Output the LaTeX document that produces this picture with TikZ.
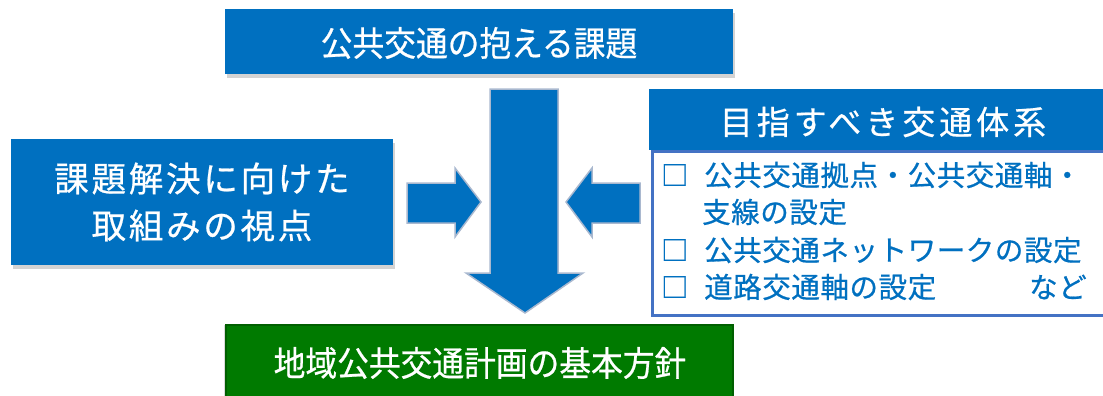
\documentclass[tikz,border=0pt]{standalone}
\usepackage{fontspec}
\newfontfamily\jp[FakeBold=0.6]{Noto Sans CJK JP}
\newfontfamily\jpn[FakeBold=0.6,FakeStretch=0.92]{Noto Sans CJK JP}
\usetikzlibrary{shadows}
\definecolor{mblue}{HTML}{0070C0}
\definecolor{mgreen}{HTML}{007A00}
\definecolor{dgreen}{HTML}{005F00}
\definecolor{frameblue}{HTML}{4472C4}
\definecolor{arrowedge}{HTML}{A9B8CF}
\tikzset{
  panel/.style={fill=mblue, draw=none, inner sep=0pt,
    drop shadow={opacity=0.35, shadow xshift=2pt, shadow yshift=-4pt}},
  bigarrow/.style={fill=mblue, draw=arrowedge, line width=1.5pt, line join=miter},
  wtext/.style={text=white, inner sep=0pt, align=center},
  btext/.style={text=mblue, inner sep=0pt, anchor=west, font={\jp\addfontfeature{LetterSpace=2}\fontsize{28.5}{34}\selectfont}},
  boxmark/.style={text=mblue, inner sep=0pt, anchor=west, font=\jp\fontsize{27}{30}\selectfont},
}
\begin{document}
\begin{tikzpicture}[x=1pt,y=-1pt]
\useasboundingbox (0,0) rectangle (1103,396);
% top box
\path[panel] (225,9) rectangle (733,74);
\node[wtext, font=\jpn\fontsize{34.5}{38}\selectfont] (top) at (479,43) {公共交通の抱える課題};
% left box
\path[panel] (11,139) rectangle (393,265);
\node[wtext, font={\jp\addfontfeature{LetterSpace=8}\fontsize{34.5}{47}\selectfont}] (left) at (202,202) {課題解決に向けた\\取組みの視点};
% right box
\path[panel] (649,89) rectangle (1110,150);
\node[wtext, font={\jp\addfontfeature{LetterSpace=12}\fontsize{33}{38}\selectfont}] (goal) at (883,122) {目指すべき交通体系};
\draw[frameblue, line width=3pt, fill=white] (652,151) rectangle (1112,315);
\node[boxmark] (b1) at (661,175) {□};
\node[btext] (t1) at (704,175) {公共交通拠点・公共交通軸・};
\node[btext] (t1b) at (702,212) {支線の設定};
\node[boxmark] (b2) at (661,250) {□};
\node[btext] (t2) at (704,250) {公共交通ネットワークの設定};
\node[boxmark] (b3) at (661,287) {□};
\node[btext] (t3) at (704,287) {道路交通軸の設定};
\node[btext] (t3b) at (1029,287) {など};
% bottom box
\path[fill=mgreen, draw=dgreen, line width=2pt,
  drop shadow={opacity=0.3, shadow xshift=-2pt, shadow yshift=0pt}] (226,325) rectangle (733,400);
\node[wtext, font=\jpn\fontsize{34.5}{38}\selectfont] (bottom) at (480,363) {地域公共交通計画の基本方針};
% arrows
\path[bigarrow] (490,89) -- (558,89) -- (558,273) -- (583,273) -- (525,313) -- (466,273) -- (490,273) -- cycle;
\path[bigarrow] (407,183) -- (455,183) -- (455,168) -- (481,202) -- (455,237) -- (455,223) -- (407,223) -- cycle;
\path[bigarrow] (640,183) -- (592,183) -- (592,168) -- (566,202) -- (592,237) -- (592,223) -- (640,223) -- cycle;
\end{tikzpicture}
\end{document}
